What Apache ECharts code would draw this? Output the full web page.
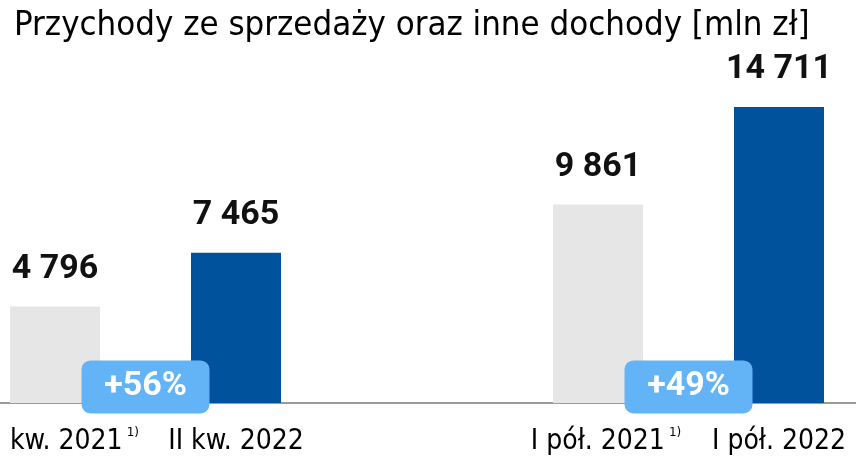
<!DOCTYPE html>
<html>
<head>
<meta charset="utf-8">
<script src="https://cdn.jsdelivr.net/npm/echarts@6/dist/echarts.min.js"></script>
<style>html,body{margin:0;padding:0;background:#fff}#c{width:856px;height:463px}</style>
</head>
<body>
<div id="c"></div>
<script>
const title = 'Przychody ze sprzedaży oraz inne dochody [mln zł]';
const categories = ['II kw. 2021', 'II kw. 2022', '', 'I pół. 2021', 'I pół. 2022'];
const footnotes = ['1)', '', '', '1)', ''];
const values = [4796, 7465, null, 9861, 14711];
const barColors = ['#e6e6e6', '#00529c', '#e6e6e6', '#e6e6e6', '#00529c'];
const growthPos = [0.5, 3.5];
const growthLabels = ['+56%', '+49%'];

const chart = echarts.init(document.getElementById('c'), null, {renderer: 'canvas'});
const fmtNum = v => String(v).replace(/\B(?=(\d{3})+(?!\d))/g, ' ');
const labelIdx = categories.map((c, i) => i).filter(i => categories[i] !== '');

chart.setOption({
  animation: false,
  title: {
    text: title, left: 9, top: 4,
    textStyle: {fontFamily: 'DejaVu Sans Condensed', fontSize: 34.5, fontWeight: 'normal', color: '#000'}
  },
  grid: {left: 0, right: 0, top: 81, bottom: 60, containLabel: false, outerBoundsMode: 'none'},
  xAxis: {
    type: 'value', min: -0.3039, max: 4.4254,
    splitLine: {show: false},
    axisLine: {show: true, onZero: false, lineStyle: {color: '#9a9a9a', width: 2}},
    axisTick: {show: false},
    axisLabel: {
      margin: 24, customValues: labelIdx, showMinLabel: true, showMaxLabel: true, hideOverlap: false,
      formatter: v => {
        const i = Math.round(v);
        return footnotes[i] ? '{p|}{t|' + categories[i] + '}{s|' + footnotes[i] + '}' : '{t|' + categories[i] + '}';
      },
      rich: {
        t: {fontFamily: 'DejaVu Sans Condensed', fontSize: 28, color: '#000', lineHeight: 30},
        s: {fontFamily: 'DejaVu Sans', fontSize: 12, color: '#000', verticalAlign: 'top', padding: [0, 0, 0, 4], lineHeight: 30},
        p: {width: 16}
      }
    }
  },
  yAxis: {type: 'value', min: 0, max: 16000, show: false, splitLine: {show: false}},
  series: [{
    type: 'bar', barWidth: 90,
    data: values.map((v, i) => ({value: [i, v], itemStyle: {color: barColors[i]}})).filter(d => d.value[1] != null),
    label: {
      show: true, position: 'top', distance: 20,
      formatter: p => fmtNum(p.value[1]),
      fontFamily: 'Roboto', fontWeight: 'bold', fontSize: 34, color: '#111'
    }
  }, {
    type: 'scatter', symbolSize: 0, z: 5,
    itemStyle: {opacity: 1},
    data: growthPos.map((x, i) => [x, 800, growthLabels[i]]),
    label: {
      show: true, position: 'inside',
      formatter: p => p.value[2],
      fontFamily: 'Roboto', fontWeight: 'bold', fontSize: 34, color: '#fff',
      backgroundColor: '#62b4f7', borderRadius: 9,
      padding: [9, 18, 10, 18], lineHeight: 34, width: 92, align: 'center'
    }
  }]
});
</script>
</body>
</html>
